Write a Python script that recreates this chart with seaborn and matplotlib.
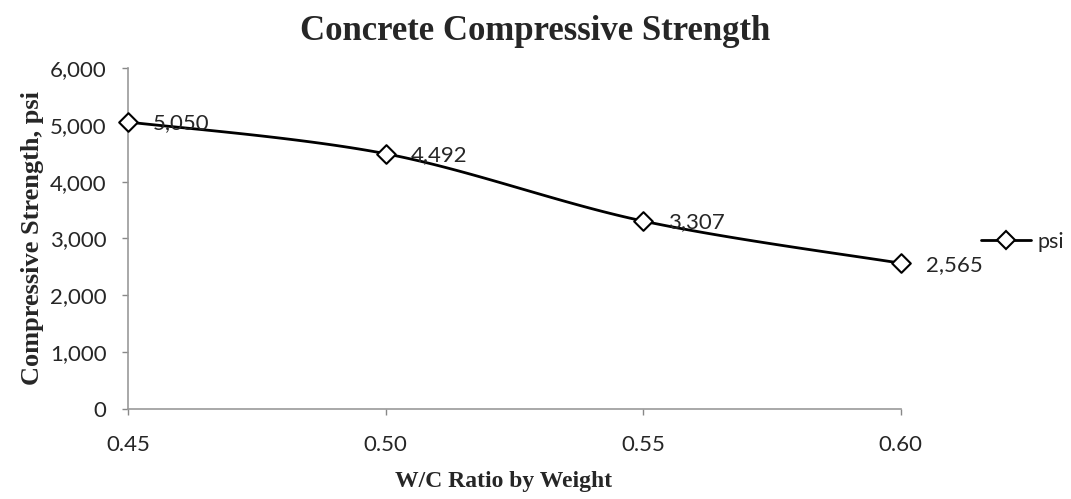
import matplotlib.pyplot as plt
import matplotlib.ticker as mticker
import numpy as np
import pandas as pd
import seaborn as sns

# data
wc_ratio = [0.45, 0.50, 0.55, 0.60]
strength = [5050, 4492, 3307, 2565]
x_ticks = [0.45, 0.50, 0.55, 0.60]
y_ticks = [0, 1000, 2000, 3000, 4000, 5000, 6000]

df = pd.DataFrame({'wc': wc_ratio, 'psi': strength})

sns.set_style('white')
plt.rcParams['font.family'] = ['Lato', 'DejaVu Sans']

fig = plt.figure(figsize=(10.71, 4.99), dpi=100)
AX = [0.1195, 0.1804, 0.7215, 0.6833]
ax = fig.add_axes(AX)

ax.set_xlim(0.45, 0.60)
ax.set_ylim(0, 6000)
aspect = AX[3] * 4.99 / (AX[2] * 10.71)


def smooth(xs, ys, n=40):
    # Excel-style smoothed line (cardinal bezier through the points),
    # built in axes-fraction space so the curve bends like the original
    x0, x1 = ax.get_xlim()
    y0, y1 = ax.get_ylim()
    px = (np.array(xs) - x0) / (x1 - x0)
    py = (np.array(ys) - y0) / (y1 - y0) * aspect
    pts = np.column_stack([px, py])
    out = []
    for i in range(len(pts) - 1):
        p0 = pts[i - 1] if i > 0 else pts[i]
        p1, p2 = pts[i], pts[i + 1]
        p3 = pts[i + 2] if i + 2 < len(pts) else pts[i + 1]
        c1 = p1 + (p2 - p0) / 6
        c2 = p2 - (p3 - p1) / 6
        t = np.linspace(0, 1, n)[:, None]
        seg = ((1 - t) ** 3 * p1 + 3 * (1 - t) ** 2 * t * c1
               + 3 * (1 - t) * t ** 2 * c2 + t ** 3 * p2)
        out.append(seg)
    out = np.vstack(out)
    sx = out[:, 0] * (x1 - x0) + x0
    sy = out[:, 1] / aspect * (y1 - y0) + y0
    return sx, sy


sx, sy = smooth(wc_ratio, strength)
ax.plot(sx, sy, color='black', lw=2, zorder=2, clip_on=False)
sns.scatterplot(data=df, x='wc', y='psi', marker='D', s=90, color='white',
                edgecolor='black', linewidth=1.5, zorder=3, clip_on=False, ax=ax)

for x, y in zip(wc_ratio, strength):
    ax.annotate(f'{y:,}', (x, y), xytext=(18, -1), textcoords='offset points',
                ha='left', va='center', fontsize=16)

# legend entry on the right
ax.plot([], [], color='black', lw=2, marker='D', markersize=9,
        markerfacecolor='white', markeredgecolor='black', markeredgewidth=1.5,
        label='psi')
ax.legend(loc='center left', bbox_to_anchor=(0.906, 0.515),
          bbox_transform=fig.transFigure, frameon=False, fontsize=15.5,
          handlelength=2.3, handletextpad=0.3, borderpad=0)

ax.set_xticks(x_ticks)
ax.set_xticklabels([f'{t:.2f}' for t in x_ticks])
ax.set_yticks(y_ticks)
ax.yaxis.set_major_formatter(mticker.StrMethodFormatter('{x:,.0f}'))
ax.tick_params(axis='both', labelsize=16, length=4.5, width=1, color='#888888',
               direction='out', bottom=True, left=True)
ax.tick_params(axis='y', pad=11)
ax.tick_params(axis='x', pad=14)

sns.despine(ax=ax)
for s in ['left', 'bottom']:
    ax.spines[s].set_color('#999999')
    ax.spines[s].set_linewidth(1.2)

serif = ['Liberation Serif', 'DejaVu Serif']
# title is centred on the whole chart, not the plot area
ax.set_title('Concrete Compressive Strength', family=serif, fontweight='bold',
             fontsize=25, pad=20, x=(0.5 - AX[0]) / AX[2])
ax.set_xlabel('W/C Ratio by Weight', family=serif, fontweight='bold',
              fontsize=17, labelpad=12, x=0.486)
ax.set_ylabel('Compressive Strength, psi', family=serif, fontweight='bold',
              fontsize=19, labelpad=4)

fig.savefig('out.png', dpi=100)
